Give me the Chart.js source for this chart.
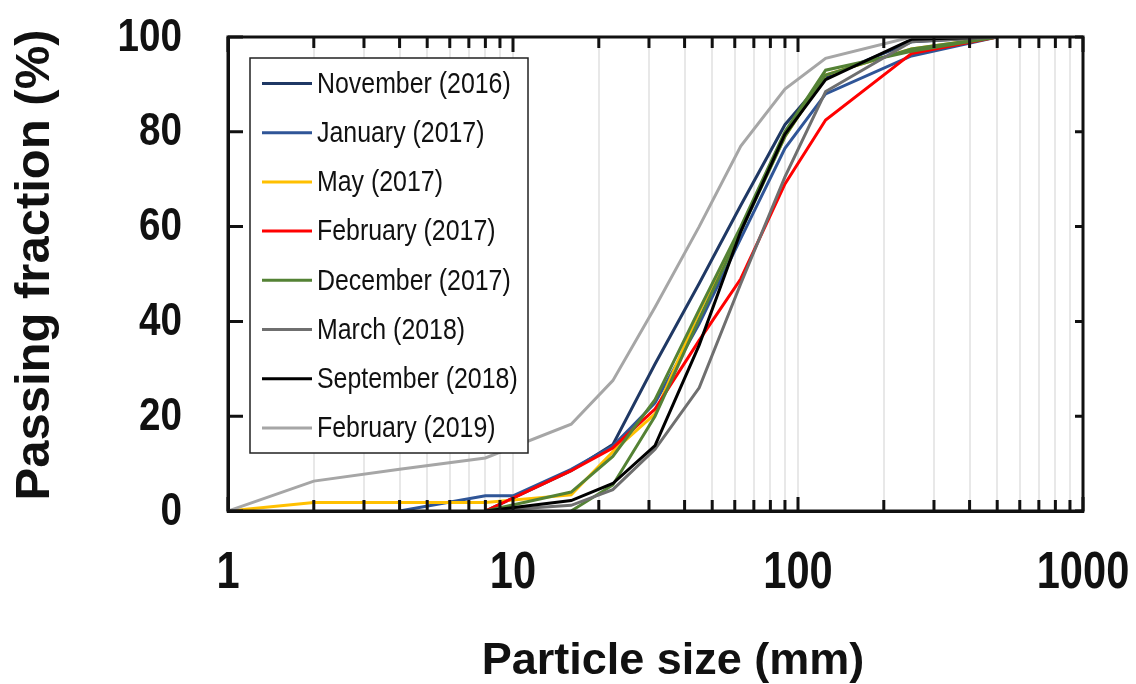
<!DOCTYPE html>
<html>
<head>
<meta charset="utf-8">
<script src="https://cdn.jsdelivr.net/npm/chart.js@4.4.0/dist/chart.umd.min.js"></script>
<style>
  html, body { margin: 0; padding: 0; background: #fff; }
</style>
</head>
<body>
<canvas id="psd" width="1136" height="684"></canvas>
<script>
// sieve sizes (mm)
const sizes = [1, 2, 4, 8, 10, 16, 22.4, 31.5, 45, 63, 90, 125, 250, 500];

// passing fraction (%) per campaign
const nov2016  = [null, null, null, 0, null, 8.5, 14, 31, 48, 64.5, 81.5, 91.5, 99, 100];
const jan2017  = [null, null, 0, 3.2, 3.2, 8.8, 13.7, 22.8, 39.5, 57.5, 76.5, 88, 96, 100];
const may2017  = [0, 1.8, 1.8, 1.8, null, 3.4, 12.5, 20.5, 42, 59.5, 79, 92, 97.5, 100];
const feb2017  = [null, null, null, 0, null, 8.5, 13.3, 21.5, 36, 49, 69, 82.5, 96.5, 100];
const dec2017  = [null, null, null, 0, null, 4, 11.5, 23.5, 42.5, 60, 80, 93, 97, 100];
const dec2017b = [null, null, null, null, null, 0, 5.5, 20, 40.5, 59, 79, 92, 97.5, 100];
const mar2018  = [null, null, null, 0, null, 1.2, 4.5, 13, 26, 48, 70.5, 88.5, 99, 100];
const sep2018  = [null, null, null, 0, null, 2.2, 5.8, 13.8, 35, 59, 79.5, 91, 99.5, 100];
const feb2019  = [0, 6.3, 8.8, 11.2, null, 18.3, 27.5, 43, 60, 77, 89, 95.5, 100, 100];

const xLabels = [1, 10, 100, 1000];
const xMinor = [2, 3, 4, 5, 6, 7, 8, 9, 20, 30, 40, 50, 60, 70, 80, 90, 200, 300, 400, 500, 600, 700, 800, 900];
const yTicks = [0, 20, 40, 60, 80, 100];

// legend: false -> drawn but not listed
const series = [
  { label: 'November (2016)',  values: nov2016,  color: '#1f3864', legend: true },
  { label: 'January (2017)',   values: jan2017,  color: '#2f5597', legend: true },
  { label: 'May (2017)',       values: may2017,  color: '#ffc000', legend: true },
  { label: 'February (2017)',  values: feb2017,  color: '#ff0000', legend: true },
  { label: 'December (2017)',  values: dec2017,  color: '#548235', legend: true },
  { label: 'December (2017) ', values: dec2017b, color: '#548235', legend: false },
  { label: 'March (2018)',     values: mar2018,  color: '#6f6f6f', legend: true },
  { label: 'September (2018)', values: sep2018,  color: '#000000', legend: true },
  { label: 'February (2019)',  values: feb2019,  color: '#a6a6a6', legend: true },
];

const fam = "'Liberation Sans', Arial, sans-serif";

// the source figure has narrow (squeezed) lettering, so text is drawn with a horizontal scale
function squeezed(ctx, text, x, y, sx, align) {
  ctx.save();
  ctx.translate(x, y);
  ctx.scale(sx, 1);
  ctx.textAlign = align;
  ctx.fillText(text, 0, 0);
  ctx.restore();
}

const frameAndLegend = {
  id: 'frameAndLegend',
  afterDraw(chart) {
    const { ctx, chartArea: a, scales } = chart;
    ctx.save();
    ctx.strokeStyle = '#111';
    ctx.lineWidth = 3;
    ctx.beginPath();
    xMinor.forEach(v => {
      const px = scales.x.getPixelForValue(v);
      ctx.moveTo(px, a.top); ctx.lineTo(px, a.top + 11);
      ctx.moveTo(px, a.bottom); ctx.lineTo(px, a.bottom - 11);
    });
    xLabels.forEach(v => {
      const px = scales.x.getPixelForValue(v);
      ctx.moveTo(px, a.top); ctx.lineTo(px, a.top + 15);
      ctx.moveTo(px, a.bottom); ctx.lineTo(px, a.bottom - 14);
    });
    yTicks.forEach(v => {
      const py = scales.y.getPixelForValue(v);
      ctx.moveTo(a.left, py); ctx.lineTo(a.left + 15, py);
      ctx.moveTo(a.right, py); ctx.lineTo(a.right - 8, py);
    });
    ctx.stroke();
    ctx.strokeRect(a.left, a.top, a.right - a.left, a.bottom - a.top);

    // tick labels
    ctx.fillStyle = '#111';
    ctx.textBaseline = 'middle';
    ctx.font = 'bold 46px ' + fam;
    yTicks.forEach(v => {
      squeezed(ctx, String(v), a.left - 46, scales.y.getPixelForValue(v) + 1, 0.84, 'right');
    });
    ctx.font = 'bold 52px ' + fam;
    xLabels.forEach(v => {
      squeezed(ctx, String(v), scales.x.getPixelForValue(v), a.bottom + 63, 0.8, 'center');
    });

    // axis titles
    ctx.font = 'bold 45px ' + fam;
    ctx.textAlign = 'center';
    ctx.fillText('Particle size (mm)', 673, 662);
    ctx.save();
    ctx.translate(35, 265);
    ctx.rotate(-Math.PI / 2);
    ctx.font = 'bold 49px ' + fam;
    ctx.fillText('Passing fraction (%)', 0, 0);
    ctx.restore();

    // legend box
    const bx = 250, by = 58, bw = 278, bh = 395;
    ctx.fillStyle = '#fff';
    ctx.fillRect(bx, by, bw, bh);
    ctx.lineWidth = 1.5;
    ctx.strokeStyle = '#222';
    ctx.strokeRect(bx, by, bw, bh);
    ctx.font = '30px ' + fam;
    ctx.textBaseline = 'middle';
    let row = 0;
    series.forEach(s => {
      if (!s.legend) return;
      const cy = 83.5 + row * 49.2;
      ctx.strokeStyle = s.color;
      ctx.lineWidth = 3;
      ctx.beginPath();
      ctx.moveTo(262, cy); ctx.lineTo(312, cy);
      ctx.stroke();
      ctx.fillStyle = '#111';
      squeezed(ctx, s.label, 317, cy + 1, 0.83, 'left');
      row++;
    });
    ctx.restore();
  }
};

new Chart(document.getElementById('psd'), {
  type: 'line',
  data: {
    labels: sizes,
    datasets: series.map((s, i) => ({
      label: s.label,
      data: sizes.map((x, k) => ({ x: x, y: s.values[k] })),
      borderColor: s.color,
      backgroundColor: s.color,
      borderWidth: 3,
      pointRadius: 0,
      tension: 0,
      spanGaps: true,
      order: series.length - i,
    })),
  },
  options: {
    responsive: false,
    animation: false,
    devicePixelRatio: 1,
    layout: { padding: { top: 37, right: 53, left: 0, bottom: 0 } },
    plugins: { legend: { display: false }, tooltip: { enabled: false } },
    scales: {
      x: {
        type: 'logarithmic',
        min: 1,
        max: 1000,
        afterBuildTicks: (scale) => {
          scale.ticks = xLabels.concat(xMinor).sort((p, q) => p - q).map(v => ({ value: v }));
        },
        afterFit: (scale) => { scale.height = 173; },
        ticks: { display: false },
        grid: { color: '#e8e8e8', lineWidth: 2, drawTicks: false },
        border: { display: true, color: '#111', width: 3 },
      },
      y: {
        min: 0,
        max: 100,
        afterBuildTicks: (scale) => { scale.ticks = yTicks.map(v => ({ value: v })); },
        afterFit: (scale) => { scale.width = 228; },
        ticks: { display: false },
        grid: { display: false },
        border: { display: true, color: '#111', width: 3 },
      },
    },
  },
  plugins: [frameAndLegend],
});
</script>
</body>
</html>
